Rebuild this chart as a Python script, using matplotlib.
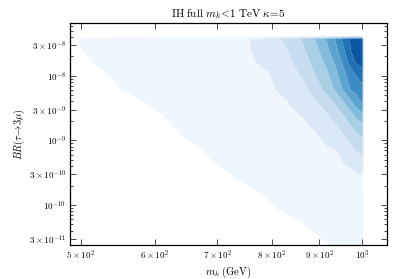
import numpy as np
import matplotlib
matplotlib.use("Agg")
import matplotlib.pyplot as plt
from matplotlib.ticker import FixedLocator, FixedFormatter, LogLocator, NullFormatter, NullLocator

plt.rcParams['mathtext.fontset'] = 'cm'

# grid of the density map: m_k nodes (GeV), BR nodes, density
mk = [480, 500, 524, 557, 593, 630, 670, 713, 758, 796, 832, 864, 892, 917, 937, 956, 972, 987, 1000, 1005]
br = [4.2e-8, 3.7e-8, 2.5e-8, 1.64e-8, 1.03e-8, 6.05e-9, 3.55e-9, 2.08e-9, 1.22e-9, 7.1e-10,
      4.2e-10, 2.46e-10, 1.44e-10, 8.5e-11, 4.95e-11, 2.9e-11, 1.9e-11]
density = [
    [0, 0, 0, 0, 0, 0, 0, 0, 0, 0, 0, 0, 0, 0, 0, 0, 0, 0, 0, 0],
    [0, 0.6, 1.02, 1.1, 1.18, 1.26, 1.33, 1.41, 1.49, 2.06, 2.75, 3.58, 4.6, 5.64, 6.65, 7.87, 8.6, 8.82, 9, 0],
    [0, 0.47, 1.01, 1.09, 1.16, 1.24, 1.32, 1.4, 1.47, 1.87, 2.49, 3.35, 4.25, 5.27, 6.23, 7.43, 8.52, 8.78, 9, 0],
    [0, 0.13, 0.77, 1.06, 1.14, 1.21, 1.29, 1.37, 1.45, 1.62, 2.26, 3.06, 3.9, 4.77, 5.73, 6.8, 8.03, 8.69, 9, 0],
    [0, 0, 0.23, 1.01, 1.09, 1.17, 1.25, 1.34, 1.42, 1.48, 2.0, 2.63, 3.53, 4.33, 5.22, 6.25, 7.05, 7.65, 8, 0],
    [0, 0, 0, 0.56, 1.04, 1.13, 1.21, 1.3, 1.38, 1.45, 1.61, 2.22, 2.96, 3.86, 4.64, 5.67, 6.56, 6.9, 7.2, 0],
    [0, 0, 0, 0, 0.51, 1.04, 1.13, 1.23, 1.32, 1.4, 1.47, 1.75, 2.28, 2.91, 3.52, 4.29, 5.09, 5.86, 6.5, 0],
    [0, 0, 0, 0, 0, 0.76, 1.07, 1.17, 1.27, 1.34, 1.41, 1.47, 1.76, 2.26, 2.72, 3.28, 3.84, 4.45, 4.8, 0],
    [0, 0, 0, 0, 0, 0.33, 1.02, 1.12, 1.21, 1.29, 1.36, 1.42, 1.47, 1.69, 2.11, 2.5, 2.97, 3.41, 3.65, 0],
    [0, 0, 0, 0, 0, 0, 0.43, 1.03, 1.14, 1.22, 1.3, 1.36, 1.42, 1.46, 1.5, 1.95, 2.33, 2.63, 2.85, 0],
    [0, 0, 0, 0, 0, 0, 0, 0.84, 1.08, 1.17, 1.24, 1.31, 1.36, 1.41, 1.45, 1.48, 1.59, 1.86, 2.1, 0],
    [0, 0, 0, 0, 0, 0, 0, 0.07, 0.9, 1.05, 1.1, 1.14, 1.17, 1.2, 1.23, 1.25, 1.27, 1.29, 1.3, 0],
    [0, 0, 0, 0, 0, 0, 0, 0, 0.1, 0.76, 1, 1, 1, 1, 1, 1, 1, 1, 1, 0],
    [0, 0, 0, 0, 0, 0, 0, 0, 0, 0.23, 0.83, 1, 1, 1, 1, 1, 1, 1, 1, 0],
    [0, 0, 0, 0, 0, 0, 0, 0, 0, 0, 0, 0.47, 0.9, 1, 1, 1, 1, 1, 1, 0],
    [0, 0, 0, 0, 0, 0, 0, 0, 0, 0, 0, 0, 0.27, 0.64, 0.93, 1, 1, 1, 1, 0],
    [0, 0, 0, 0, 0, 0, 0, 0, 0, 0, 0, 0, 0, 0.24, 0.53, 0.81, 1, 1, 1, 0],
]
levels = np.arange(0.5, 10, 1.0)

x_ticks = [500, 600, 700, 800, 900, 1000]
x_labels = [r'$5\times10^{2}$', r'$6\times10^{2}$', r'$7\times10^{2}$', r'$8\times10^{2}$',
            r'$9\times10^{2}$', r'$10^{3}$']
y_ticks = [3e-8, 1e-8, 3e-9, 1e-9, 3e-10, 1e-10, 3e-11]
y_labels = [r'$3\times10^{-8}$', r'$10^{-8}$', r'$3\times10^{-9}$', r'$10^{-9}$',
            r'$3\times10^{-10}$', r'$10^{-10}$', r'$3\times10^{-11}$']

fig = plt.figure(figsize=(4.07, 2.79), dpi=100)
ax = fig.add_axes([0.172, 0.122, 0.779, 0.796])

band_colors = plt.cm.Blues(np.linspace(0.04, 0.85, 9))
ax.contourf(mk, br, np.array(density), levels=levels, colors=band_colors, antialiased=True)

ax.set_xscale('log')
ax.set_yscale('log')
ax.set_xlim(487, 1063)
ax.set_ylim(2.4e-11, 6.6e-8)

ax.xaxis.set_major_locator(FixedLocator(x_ticks))
ax.xaxis.set_major_formatter(FixedFormatter(x_labels))
ax.xaxis.set_minor_locator(NullLocator())
ax.yaxis.set_major_locator(FixedLocator(y_ticks))
ax.yaxis.set_major_formatter(FixedFormatter(y_labels))
ax.yaxis.set_minor_locator(LogLocator(base=10, subs=np.arange(2, 10)))
ax.yaxis.set_minor_formatter(NullFormatter())

ax.tick_params(which='both', direction='in', top=True, right=True, width=0.5)
ax.tick_params(which='major', length=4, labelsize=6.5, pad=3)
ax.tick_params(which='minor', length=2)
for s in ax.spines.values():
    s.set_linewidth(0.9)

ax.set_title(r'$\mathrm{IH\ full}\ m_k\!<\!1\ \mathrm{TeV}\ \kappa\!=\!5$', fontsize=8, pad=4)
ax.set_xlabel(r'$m_k\ (\mathrm{GeV})$', fontsize=7.5, labelpad=2)
ax.set_ylabel(r'$BR(\tau\!\rightarrow\!3\mu)$', fontsize=7.5, labelpad=1)

fig.savefig('out.png', dpi=100)
